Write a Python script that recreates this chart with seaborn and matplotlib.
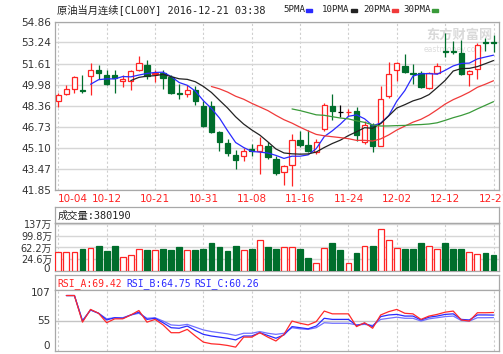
import numpy as np
import pandas as pd
import matplotlib
matplotlib.use("Agg")
import matplotlib.pyplot as plt
from matplotlib.patches import Rectangle
import seaborn as sns

# --- daily candles ---
OPEN = [48.69, 49.26, 49.68, 49.57, 50.63, 51.08, 50.76, 50.76, 50.27, 50.27,
        51.15, 51.49, 50.82, 50.92, 50.58, 49.34, 49.26, 49.55, 48.30, 48.30,
        46.31, 45.45, 44.54, 44.49, 44.98, 44.88, 45.27, 44.28, 43.25, 43.77,
        45.71, 45.35, 44.80, 46.57, 48.33, 47.91, 47.88, 47.94, 45.53, 46.88,
        45.27, 49.11, 51.08, 51.44, 50.92, 50.89, 49.73, 50.92, 52.58, 52.61,
        52.40, 50.84, 51.23, 53.28, 53.28]
HIGH = [49.37, 49.99, 50.63, 50.71, 51.62, 51.49, 51.15, 51.10, 50.71, 51.15,
        52.22, 51.85, 51.10, 51.10, 50.71, 50.06, 49.93, 49.86, 48.69, 48.69,
        46.44, 45.79, 44.96, 45.06, 45.40, 45.92, 45.53, 44.49, 43.78, 46.18,
        46.44, 46.51, 45.79, 48.59, 49.24, 48.38, 48.12, 48.25, 47.14, 47.03,
        49.88, 51.75, 51.75, 52.32, 51.54, 51.02, 50.97, 51.67, 53.95, 53.36,
        53.43, 51.10, 53.18, 53.62, 53.82]
LOW = [48.25, 49.16, 49.37, 49.37, 49.16, 50.45, 49.93, 49.37, 49.83, 49.55,
       51.02, 50.45, 50.19, 49.68, 49.29, 48.90, 49.03, 48.38, 46.69, 46.25,
       44.88, 44.44, 43.51, 44.10, 44.49, 43.07, 44.28, 42.99, 42.24, 42.16,
       45.14, 44.75, 44.62, 46.44, 47.29, 47.47, 47.55, 45.66, 45.40, 44.80,
       45.22, 48.95, 50.25, 50.92, 50.06, 49.73, 49.62, 50.84, 52.14, 52.32,
       50.71, 49.88, 50.45, 52.58, 52.53]
CLOSE = [49.16, 49.68, 50.56, 49.52, 51.15, 50.92, 50.01, 50.53, 50.45, 51.02,
         51.62, 50.63, 50.92, 50.53, 49.37, 49.29, 49.57, 48.69, 46.82, 46.36,
         45.58, 44.70, 44.13, 44.88, 44.85, 45.32, 44.36, 43.20, 43.71, 45.71,
         45.32, 44.88, 45.58, 48.38, 47.94, 47.91, 47.91, 46.10, 46.88, 45.27,
         48.90, 50.84, 51.67, 50.97, 50.84, 49.81, 50.89, 51.44, 52.48, 52.53,
         50.77, 51.02, 53.05, 53.23, 53.23]

# volume in 万 (10k contracts)
VOLUME = [48.6, 48.6, 48.6, 56.2, 61.5, 68.0, 50.8, 68.0, 30.3, 36.7,
          58.3, 52.9, 52.9, 58.3, 52.9, 64.8, 52.9, 52.9, 58.3, 77.7,
          62.6, 49.7, 68.0, 52.9, 58.3, 85.3, 62.6, 58.3, 64.8, 64.8,
          58.3, 27.0, 11.9, 61.5, 77.7, 52.9, 11.9, 43.2, 68.0, 68.0,
          120.9, 86.4, 61.5, 56.2, 56.2, 75.6, 68.0, 56.2, 77.7, 58.3,
          58.3, 48.6, 40.0, 44.3, 38.0]

nan = np.nan
RSI_A = [nan, 100, 100, 52, 75, 68, 51, 58, 58, 65, 73, 52, 57, 47, 33, 33, 39, 27, 16, 13,
         12, 10, 7, 25, 25, 33, 25, 18, 30, 54, 50, 47, 53, 72, 67, 67, 67, 44, 51, 41,
         65, 71, 75, 68, 67, 57, 63, 66, 70, 72, 56, 54, 69, 69, 69.42]
RSI_B = [nan, 100, 100, 54, 74, 68, 56, 60, 59, 65, 70, 57, 59, 51, 42, 41, 45, 37, 30, 27,
         25, 23, 20, 27, 27, 33, 28, 23, 29, 44, 42, 40, 45, 59, 57, 57, 57, 46, 50, 44,
         62, 65, 66, 63, 63, 56, 61, 63, 66, 67, 57, 56, 65, 65, 64.75]
RSI_C = [nan, 100, 100, 55, 74, 68, 58, 60, 60, 65, 68, 59, 60, 54, 47, 46, 48, 43, 38, 35,
         33, 31, 28, 32, 32, 35, 32, 30, 32, 42, 40, 39, 42, 51, 50, 50, 50, 47, 48, 46,
         57, 59, 61, 59, 59, 54, 58, 60, 62, 63, 55, 54, 60, 60, 60.26]

DATE_LABELS = ["10-04", "10-12", "10-21", "10-31", "11-08",
               "11-16", "11-24", "12-02", "12-12", "12-21"]
PRICE_TICKS = [41.85, 43.47, 45.10, 46.73, 48.36, 49.98, 51.61, 53.24, 54.86]
VOL_TICKS = [24.6, 62.2, 99.8, 137]
VOL_TICK_LABELS = ["24.6万", "62.2万", "99.8万", "137万"]
RSI_TICKS = [0, 55, 107]
MA_WINDOWS = [5, 10, 20, 30]
MA_NAMES = ["5PMA", "10PMA", "20PMA", "30PMA"]

# --- style ---
RED = "#ff2424"
GREEN = "#006e2c"
MA_COLORS = ["#2a2aff", "#222222", "#f03a3a", "#3a9a3a"]
GRID = "#d6d6d6"
SPINE = "#a8a8a8"
W, H = 503, 354

sns.set_style("white")
plt.rcParams["font.family"] = ["DejaVu Sans", "Noto Sans CJK SC"]
MONO = ["DejaVu Sans Mono", "Noto Sans CJK SC"]

n = len(CLOSE)
idx = np.arange(n)
o = np.array(OPEN)
c = np.array(CLOSE)
up = c > o
flat = c == o
edge = np.where(up, RED, GREEN).astype(object)
edge[flat] = "#000000"
face = np.where(up, "white", GREEN).astype(object)
face[flat] = "white"

fig = plt.figure(figsize=(W / 100, H / 100), dpi=100)


def panel(x0, y0, x1, y1):
    return fig.add_axes([x0 / W, 1 - y1 / H, (x1 - x0) / W, (y1 - y0) / H])


def frame(ax):
    for s in ax.spines.values():
        s.set_color(SPINE)
        s.set_linewidth(0.9)
    ax.set_xlim(-0.41, n - 0.32)
    ax.set_xticks(np.arange(0, n, 6))
    ax.xaxis.grid(True, color="#cfcfcf", linestyle=(0, (2, 2)), linewidth=0.8)
    ax.tick_params(length=0, labelsize=7.5, colors="#333333")
    ax.set_axisbelow(True)


# --- main candle panel ---
ax = panel(55, 21.5, 499, 190)
frame(ax)
ax.set_ylim(PRICE_TICKS[0], PRICE_TICKS[-1])
ax.set_yticks(PRICE_TICKS)
ax.set_yticklabels([f"{t:.2f}" for t in PRICE_TICKS])
ax.yaxis.grid(True, color=GRID, linewidth=1)
ax.vlines(idx, LOW, HIGH, colors=list(edge), linewidth=0.9, zorder=3)
ax.bar(idx, np.abs(c - o), bottom=np.minimum(o, c), width=0.66,
       color=list(face), edgecolor=list(edge), linewidth=0.9, zorder=4)
close_s = pd.Series(CLOSE)
for win, col in zip(MA_WINDOWS, MA_COLORS):
    df = pd.DataFrame({"i": idx, "ma": close_s.rolling(win).mean()}).dropna()
    sns.lineplot(data=df, x="i", y="ma", ax=ax, color=col, linewidth=0.9,
                 estimator=None, zorder=5)
ax.set_xlabel("")
ax.set_ylabel("")
ax.set_xticklabels(DATE_LABELS)
for t in ax.get_xticklabels():
    t.set_color(RED)
    t.set_fontsize(7.5)
ax.get_xticklabels()[0].set_horizontalalignment("left")
ax.tick_params(axis="x", pad=3)
ax.tick_params(axis="y", pad=3)
# watermark
ax.text(0.985, 0.955, "东方财富网", transform=ax.transAxes, ha="right", va="top",
        fontsize=9.5, fontweight="bold", color="#d9d9d9", zorder=1)
ax.text(0.965, 0.86, "eastmoney.com", transform=ax.transAxes, ha="right", va="top",
        fontsize=5.5, color="#dddddd", zorder=1)

# title + legend
fig.text(57 / W, 1 - 10 / H, "原油当月连续[CL00Y] 2016-12-21 03:38", family=MONO,
         fontsize=7.4, va="center", color="#222222")
legend_x = [283, 322, 363, 403]
for lx, name, col in zip(legend_x, MA_NAMES, MA_COLORS):
    fig.text(lx / W, 1 - 10 / H, name, family=MONO, fontsize=6.6,
             va="center", color="#222222")
    wx = lx + 5.4 * len(name) + 1.5
    fig.patches.append(Rectangle((wx / W, 1 - 11.5 / H), 6 / W, 3 / H,
                                 transform=fig.transFigure, color=col))

# --- volume panel ---
vh = panel(55, 207, 499, 223)
vh.set_xticks([])
vh.set_yticks([])
for s in vh.spines.values():
    s.set_color(SPINE)
    s.set_linewidth(0.9)
vh.text(0.005, 0.45, "成交量:380190", transform=vh.transAxes, va="center",
        fontsize=7.4, family=MONO, color="#222222")

VOL_FLOOR = -13.5
av = panel(55, 223, 499, 271)
frame(av)
av.set_ylim(VOL_FLOOR, 141)
av.set_yticks(VOL_TICKS)
av.set_yticklabels(VOL_TICK_LABELS)
av.yaxis.grid(True, color=GRID, linewidth=1)
av.set_xticklabels([])
av.tick_params(axis="y", labelsize=7, pad=2)
vol = np.array(VOLUME)
av.bar(idx, vol - VOL_FLOOR, bottom=VOL_FLOOR, width=0.72,
       color=[GREEN if not u else "white" for u in up],
       edgecolor=[GREEN if not u else RED for u in up], linewidth=0.9, zorder=3)
av.text(-0.012, 0.04, "0", transform=av.transAxes, ha="right", va="center",
        fontsize=7.5, color="#333333")

# --- RSI panel ---
rh = panel(55, 275, 499, 290)
rh.set_xticks([])
rh.set_yticks([])
for s in rh.spines.values():
    s.set_color(SPINE)
    s.set_linewidth(0.9)
for rx, txt, col in [(0.005, "RSI_A:69.42", RED), (0.16, "RSI_B:64.75", "#2a2aff"),
                     (0.315, "RSI_C:60.26", "#2a2aff")]:
    rh.text(rx, 0.45, txt, transform=rh.transAxes, va="center", fontsize=7,
            family=MONO, color=col)

ar = panel(55, 290, 499, 351)
frame(ar)
ar.set_ylim(0, 110)
ar.set_yticks(RSI_TICKS)
ar.set_yticklabels([str(t) for t in RSI_TICKS])
ar.get_yticklabels()[0].set_verticalalignment("bottom")
ar.axhline(55, color="#c4c4c4", linewidth=1, zorder=1)
ar.set_xticklabels([])
rsi = pd.DataFrame({"i": idx, "A": RSI_A, "B": RSI_B, "C": RSI_C})
for key, col in [("C", "#7070ff"), ("B", "#2a2aff"), ("A", "#ff2a2a")]:
    d = rsi[["i", key]].dropna()
    sns.lineplot(data=d, x="i", y=key, ax=ar, color=col, linewidth=0.9,
                 estimator=None, zorder=4)
ar.set_xlabel("")
ar.set_ylabel("")

fig.savefig("out.png", dpi=100)
